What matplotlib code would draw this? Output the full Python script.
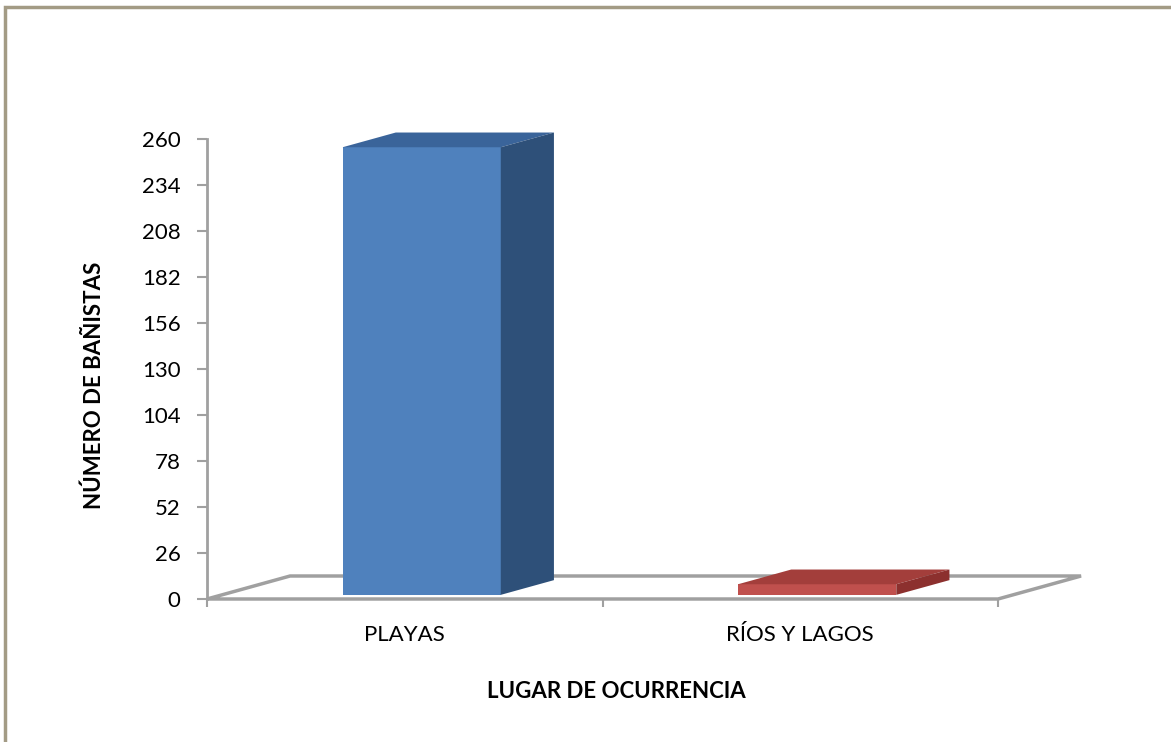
import matplotlib
matplotlib.use("Agg")
import matplotlib.pyplot as plt
from matplotlib.patches import Polygon, Rectangle

plt.rcParams['font.family'] = ['Lato', 'DejaVu Sans']

# datos
lugares = ['PLAYAS', 'RÍOS Y LAGOS']
banistas = [253, 6]
yticks = [0, 26, 52, 78, 104, 130, 156, 182, 208, 234, 260]

col_frente = ['#4F81BD', '#C0504D']
col_arriba = ['#3A649A', '#A33E3B']
col_lado = ['#2E5079', '#8C302E']
gris = '#A0A0A0'

fig = plt.figure(figsize=(11.71, 7.42), dpi=100)
W, H = 1171, 742
ax = fig.add_axes([207 / W, (H - 599) / H, (998 - 207) / W, (599 - 139) / H])

ax.set_xlim(-0.5, 1.5)
ax.set_ylim(0, 260)

# profundidad del piso (en unidades de datos)
fdx, fdy = 0.21, 13.0
piso = Polygon([(-0.5, 0), (1.5, 0), (1.5 + fdx, fdy), (-0.5 + fdx, fdy)],
               closed=True, facecolor='white', edgecolor=gris, lw=2.5,
               clip_on=False, zorder=1)
ax.add_patch(piso)

# barras pseudo 3D
frac = 0.64
bdx, bdy = fdx * frac, fdy * frac
ox, oy = fdx * (1 - frac) / 2, fdy * (1 - frac) / 2
ancho = 0.40
for i, v in enumerate(banistas):
    x0 = i - 0.2 + ox + 0.005
    ax.bar(x0, v, width=ancho, bottom=oy, align='edge', color=col_frente[i],
           edgecolor='none', zorder=3, clip_on=False)
    x1 = x0 + ancho
    top = v + oy
    ax.add_patch(Polygon([(x0, top), (x1, top), (x1 + bdx, top + bdy), (x0 + bdx, top + bdy)],
                         closed=True, facecolor=col_arriba[i], edgecolor='none',
                         zorder=3, clip_on=False))
    ax.add_patch(Polygon([(x1, oy), (x1 + bdx, oy + bdy), (x1 + bdx, top + bdy), (x1, top)],
                         closed=True, facecolor=col_lado[i], edgecolor='none',
                         zorder=3, clip_on=False))

for s in ['top', 'right']:
    ax.spines[s].set_visible(False)
ax.spines['left'].set_color(gris)
ax.spines['left'].set_linewidth(2)
ax.spines['bottom'].set_visible(False)

ax.set_yticks(yticks)
ax.tick_params(axis='y', colors=gris, labelcolor='black', labelsize=16, length=7, width=1.5, pad=12)
ax.set_xticks([0, 1])
ax.set_xticklabels(lugares)
ax.set_xticks([-0.5, 0.5, 1.5], minor=True)
ax.tick_params(axis='x', which='major', length=0, labelsize=16, pad=19)
ax.tick_params(axis='x', which='minor', colors=gris, length=6, width=1.5)

fig.text(616 / W, 1 - 692 / H, 'LUGAR DE OCURRENCIA', ha='center', va='center',
         fontsize=16, fontweight='bold')
fig.text(94 / W, 1 - 385 / H, 'NÚMERO DE BAÑISTAS', ha='center', va='center',
         rotation=90, fontsize=16, fontweight='bold')

# marco de la imagen
fig.patches.append(Rectangle((5 / W, -0.1), 1.2, (H - 7) / H + 0.1, transform=fig.transFigure,
                             facecolor='none', edgecolor='#A39B85', lw=2.5))

fig.savefig('out.png', dpi=100)
